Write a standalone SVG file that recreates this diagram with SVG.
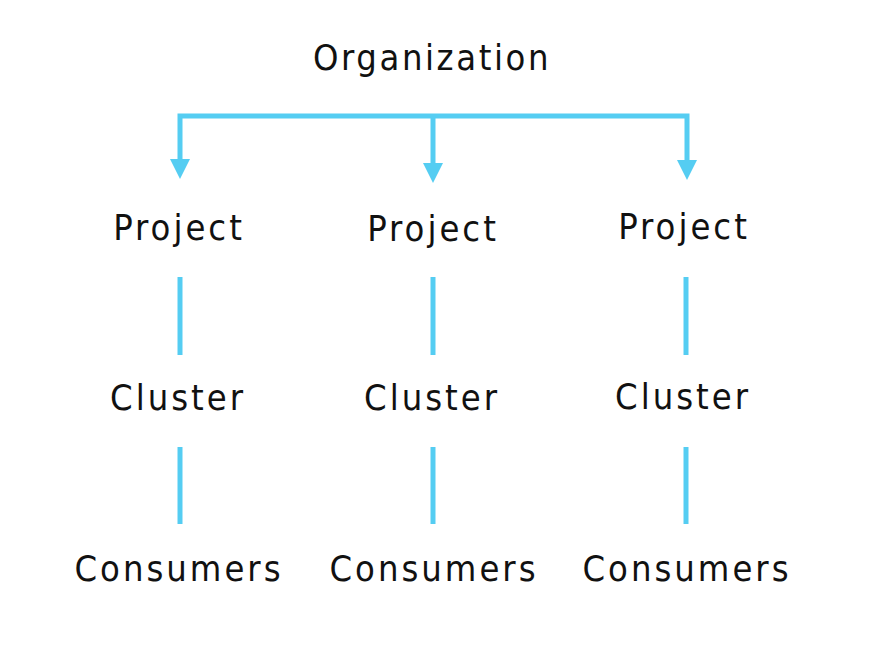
<svg xmlns="http://www.w3.org/2000/svg" width="880" height="672" viewBox="0 0 880 672">
<style>
.lbl{font-family:"DejaVu Sans","Liberation Sans",sans-serif;font-stretch:condensed;font-size:36px;letter-spacing:3px;fill:#111;text-anchor:middle}
.org{letter-spacing:2.6px}
.ln{stroke:#55CDF2;stroke-width:5;fill:none}
.hd{fill:#55CDF2}
</style>
<rect width="880" height="672" fill="#fff"/>
<g id="connectors">
<path class="ln" d="M180,162 V116 H687 V162"/>
<polygon class="hd" points="170,159 190,159 180,179"/>
<line class="ln" x1="433" y1="116" x2="433" y2="165"/>
<polygon class="hd" points="423,163 443,163 433,183"/>
<polygon class="hd" points="677,160 697,160 687,180"/>
<line class="ln" x1="180" y1="277" x2="180" y2="355"/>
<line class="ln" x1="180" y1="447" x2="180" y2="524"/>
<line class="ln" x1="433" y1="277" x2="433" y2="355"/>
<line class="ln" x1="433" y1="447" x2="433" y2="524"/>
<line class="ln" x1="686" y1="277" x2="686" y2="355"/>
<line class="ln" x1="686" y1="447" x2="686" y2="524"/>
</g>
<g id="organization"><text class="lbl org" x="432" y="70">Organization</text></g>
<g id="project1"><text class="lbl" x="179" y="240">Project</text></g>
<g id="project2"><text class="lbl" x="433" y="241">Project</text></g>
<g id="project3"><text class="lbl" x="684" y="239">Project</text></g>
<g id="cluster1"><text class="lbl" x="178" y="410">Cluster</text></g>
<g id="cluster2"><text class="lbl" x="432" y="410">Cluster</text></g>
<g id="cluster3"><text class="lbl" x="683" y="409">Cluster</text></g>
<g id="consumers1"><text class="lbl" x="179" y="581">Consumers</text></g>
<g id="consumers2"><text class="lbl" x="434" y="581">Consumers</text></g>
<g id="consumers3"><text class="lbl" x="687" y="581">Consumers</text></g>
</svg>
